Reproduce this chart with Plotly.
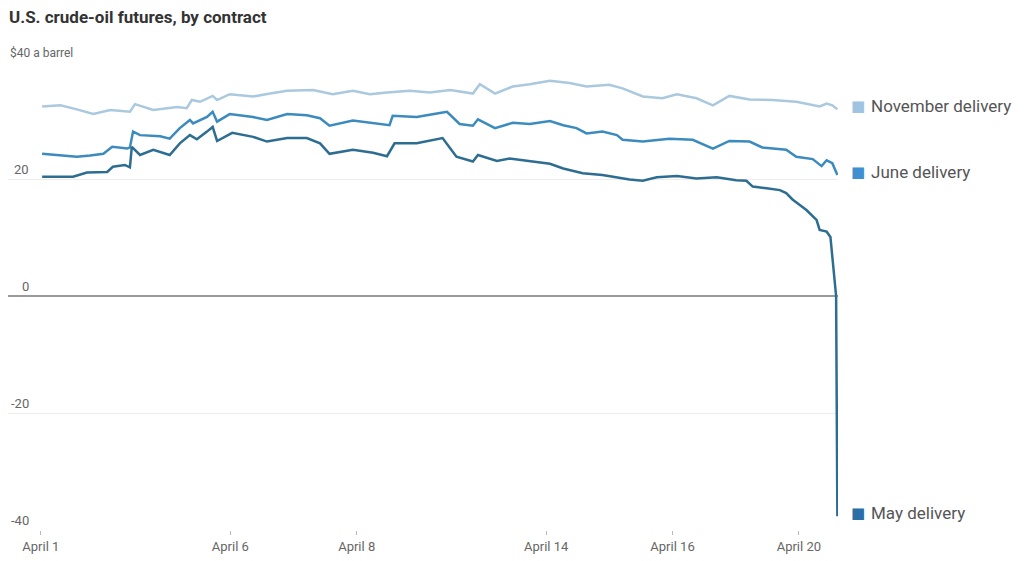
import plotly.graph_objects as go

# Trading-session index: 0 = April 1, 3 = April 6, 5 = April 8, 8 = April 14, 10 = April 16, 12 = April 20
tick_vals = [0, 3, 5, 8, 10, 12]
tick_labels = ["April 1", "April 6", "April 8", "April 14", "April 16", "April 20"]

nov_x = [0.02, 0.31, 0.57, 0.83, 1.10, 1.41, 1.49, 1.78, 2.16, 2.31, 2.39, 2.52, 2.72, 2.79, 2.99,
         3.36, 3.63, 3.90, 4.31, 4.62, 4.94, 5.21, 5.48, 5.84, 6.16, 6.48, 6.84, 6.95, 7.19, 7.47,
         7.74, 8.06, 8.37, 8.64, 9.00, 9.21, 9.53, 9.84, 10.07, 10.38, 10.64, 10.90, 11.22, 11.58,
         11.96, 12.33, 12.44, 12.53, 12.61]
nov_price = [32.4, 32.6, 31.9, 31.1, 31.8, 31.5, 32.8, 31.8, 32.3, 32.1, 33.5, 33.2, 34.2, 33.5, 34.5,
             34.1, 34.6, 35.1, 35.2, 34.5, 35.1, 34.5, 34.8, 35.1, 34.8, 35.2, 34.6, 36.2, 34.6, 35.8,
             36.2, 36.8, 36.4, 35.8, 36.1, 35.5, 34.1, 33.8, 34.5, 33.8, 32.6, 34.2, 33.6, 33.5,
             33.2, 32.4, 32.9, 32.6, 31.9]

jun_x = [0.02, 0.31, 0.57, 0.78, 0.99, 1.13, 1.37, 1.41, 1.46, 1.57, 1.89, 2.04, 2.20, 2.36, 2.41,
         2.63, 2.72, 2.79, 2.99, 3.36, 3.58, 3.90, 4.21, 4.42, 4.57, 4.94, 5.26, 5.52, 5.57, 5.95,
         6.27, 6.43, 6.63, 6.84, 6.92, 7.19, 7.47, 7.74, 8.06, 8.27, 8.48, 8.64, 8.89, 9.12, 9.21,
         9.53, 9.95, 10.32, 10.64, 10.90, 11.22, 11.42, 11.80, 11.96, 12.22, 12.36, 12.44, 12.53, 12.61]
jun_price = [24.3, 24.1, 23.8, 24.0, 24.3, 25.5, 25.2, 25.4, 28.1, 27.5, 27.3, 26.9, 28.7, 30.1, 29.5,
             30.6, 31.5, 29.8, 31.1, 30.6, 30.1, 31.1, 30.9, 30.4, 29.1, 30.0, 29.5, 29.2, 30.8, 30.6,
             31.2, 31.5, 29.4, 29.1, 30.2, 28.7, 29.6, 29.4, 29.9, 29.2, 28.7, 27.8, 28.1, 27.5, 26.7,
             26.4, 26.9, 26.7, 25.2, 26.5, 26.4, 25.4, 25.0, 23.8, 23.4, 22.2, 23.2, 22.7, 20.7]

may_x = [0.02, 0.51, 0.73, 1.05, 1.14, 1.33, 1.41, 1.44, 1.57, 1.78, 2.04, 2.20, 2.36, 2.47, 2.63,
         2.72, 2.79, 3.03, 3.36, 3.58, 3.90, 4.21, 4.42, 4.57, 4.94, 5.26, 5.48, 5.60, 5.95, 6.27,
         6.36, 6.58, 6.84, 6.92, 7.22, 7.42, 7.74, 8.06, 8.27, 8.58, 8.89, 9.12, 9.32, 9.53, 9.75,
         10.07, 10.38, 10.70, 11.01, 11.17, 11.27, 11.49, 11.70, 11.80, 11.90, 12.01, 12.12, 12.28,
         12.33, 12.44, 12.50, 12.59, 12.61]
may_price = [20.4, 20.4, 21.1, 21.2, 22.1, 22.4, 22.0, 25.5, 24.1, 25.0, 24.1, 26.1, 27.5, 26.8, 28.1,
             28.9, 26.5, 27.9, 27.2, 26.4, 27.0, 27.0, 26.1, 24.3, 25.0, 24.5, 23.9, 26.1, 26.1, 26.8,
             27.0, 23.8, 23.0, 24.1, 23.1, 23.5, 23.0, 22.6, 21.8, 21.0, 20.7, 20.3, 19.9, 19.7, 20.3,
             20.5, 20.1, 20.3, 19.8, 19.7, 18.7, 18.4, 18.1, 17.6, 16.5, 15.6, 14.7, 13.0,
             11.3, 11.0, 10.1, 0.0, -37.63]

y_tick_vals = [40, 20, 0, -20, -40]
y_tick_labels = ["$40 a barrel", "20", "0", "-20", "-40"]

series = [
    ("November delivery", nov_x, nov_price, "#abc9de", "#9fc4e2"),
    ("June delivery", jun_x, jun_price, "#3b8bbf", "#3e90d0"),
    ("May delivery", may_x, may_price, "#2e6d92", "#2b6fa6"),
]

FONT = "Roboto"
OFF = 8                      # page body margin offset
FIG_W, FIG_H = 1024 - OFF, 561 - OFF
L, R, T, B = 8 - OFF, 838 - OFF, 62 - OFF, 530 - OFF   # plot area in figure pixels
W, H = R - L, B - T

def px_x(px):
    return (px - OFF - L) / W

def px_y(py):
    return (B - (py - OFF)) / H

fig = go.Figure()
for name, xs, ys, lc, mc in series:
    fig.add_trace(go.Scatter(x=xs, y=ys, mode="lines", name=name,
                             line=dict(color=lc, width=2.5), cliponaxis=False,
                             hoverinfo="skip"))

annotations = []
for v, t in zip(y_tick_vals, y_tick_labels):
    if t.startswith("$"):
        annotations.append(dict(x=px_x(8), xref="paper", xanchor="left",
                                y=v, yref="y", yanchor="bottom", yshift=0,
                                text=t, showarrow=False,
                                font=dict(family=FONT, size=12, color="#666")))
    else:
        annotations.append(dict(x=px_x(31), xref="paper", xanchor="right",
                                y=v, yref="y", yanchor="bottom", yshift=0,
                                text=t, showarrow=False,
                                font=dict(family=FONT, size=13, color="#666")))

for name, xs, ys, lc, mc in series:
    annotations.append(dict(x=px_x(858), xref="paper", xanchor="center",
                            y=ys[-1], yref="y", yanchor="middle", yshift=3,
                            text="■", showarrow=False,
                            font=dict(family="DejaVu Sans", size=15, color=mc)))
    annotations.append(dict(x=px_x(869), xref="paper", xanchor="left",
                            y=ys[-1], yref="y", yanchor="middle", yshift=3,
                            text=name, showarrow=False,
                            font=dict(family=FONT, size=17, color="#555")))

annotations.append(dict(x=px_x(7), xref="paper", xanchor="left",
                        y=px_y(17), yref="paper", yanchor="middle", showarrow=False,
                        text="<b>U.S. crude-oil futures, by contract</b>",
                        font=dict(family=FONT, size=17, color="#333")))

fig.update_layout(
    width=FIG_W, height=FIG_H,
    margin=dict(l=L, r=FIG_W - R, t=T, b=FIG_H - B, pad=0),
    paper_bgcolor="white", plot_bgcolor="white",
    showlegend=False,
    annotations=annotations,
    xaxis=dict(range=[-0.52, 12.62], tickvals=tick_vals, ticktext=tick_labels,
               showgrid=False, zeroline=False, showline=False, automargin=False,
               ticks="outside", ticklen=4, tickcolor="#bbb", tickwidth=1,
               tickfont=dict(family=FONT, size=13, color="#666")),
    yaxis=dict(range=[-40, 40], tickvals=y_tick_vals, showticklabels=False,
               showgrid=True, gridcolor="#ececec", gridwidth=1, automargin=False,
               zeroline=True, zerolinecolor="#9a9a9a", zerolinewidth=2,
               showline=False, ticks=""),
)

fig.write_html("out.html")
